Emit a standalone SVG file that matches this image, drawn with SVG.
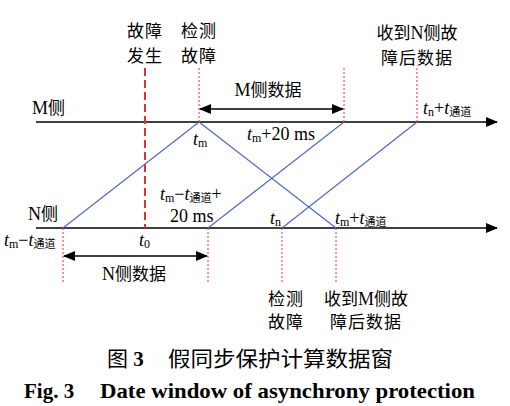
<svg xmlns="http://www.w3.org/2000/svg" width="510" height="406" viewBox="0 0 510 406">
<style>
.cn{font-family:"Noto Sans CJK SC","Noto Sans",sans-serif;font-size:17px;fill:#000}
.lt{font-family:"Liberation Serif","Noto Sans CJK SC",serif;font-size:18px;fill:#000}
.it{font-style:italic}
.sb{font-size:12px}
.sbc{font-family:"Noto Sans CJK SC",sans-serif;font-size:11px}
.axis{stroke:#000;stroke-width:1.5;fill:none}
.blue{stroke:#4a66c4;stroke-width:1.1;fill:none}
.dot{stroke:#e0303a;stroke-width:1;stroke-dasharray:2 2;fill:none}
.dash{stroke:#e0303a;stroke-width:2;stroke-dasharray:8 4;fill:none}
.arr{stroke:#000;stroke-width:1.5;fill:none}
</style>
<defs>
<marker id="ah" viewBox="0 0 12 10" refX="11" refY="5" markerWidth="12" markerHeight="10" markerUnits="userSpaceOnUse" orient="auto-start-reverse">
<path d="M0,0 L12,5 L0,10 Z" fill="#000"/>
</marker>
</defs>
<g id="connectors">
<line class="axis" x1="36" y1="122" x2="497" y2="122" marker-end="url(#ah)"/>
<line class="axis" x1="36" y1="228" x2="497" y2="228" marker-end="url(#ah)"/>
<line class="dash" x1="145" y1="68" x2="145" y2="228"/>
<line class="dot" x1="199" y1="68" x2="199" y2="122"/>
<line class="dot" x1="344" y1="68" x2="344" y2="122"/>
<line class="dot" x1="417" y1="68" x2="417" y2="122"/>
<line class="dot" x1="63" y1="228" x2="63" y2="284"/>
<line class="dot" x1="208" y1="228" x2="208" y2="284"/>
<line class="dot" x1="282" y1="228" x2="282" y2="284"/>
<line class="dot" x1="336" y1="228" x2="336" y2="284"/>
<line class="blue" x1="63" y1="228" x2="199" y2="122"/>
<line class="blue" x1="199" y1="122" x2="336" y2="228"/>
<line class="blue" x1="208" y1="228" x2="344" y2="122"/>
<line class="blue" x1="282" y1="228" x2="417" y2="122"/>
<line class="arr" x1="200" y1="109" x2="343" y2="109" marker-start="url(#ah)" marker-end="url(#ah)"/>
<line class="arr" x1="64" y1="256" x2="207" y2="256" marker-start="url(#ah)" marker-end="url(#ah)"/>
</g>
<g id="fault-occur"><text class="cn" x="145" y="37" text-anchor="middle" letter-spacing="1">故障</text><text class="cn" x="145" y="62" text-anchor="middle" letter-spacing="1">发生</text></g>
<g id="m-detect"><text class="cn" x="199" y="37" text-anchor="middle" letter-spacing="1">检测</text><text class="cn" x="199" y="62" text-anchor="middle" letter-spacing="1">故障</text></g>
<g id="m-recv"><text class="lt" x="417" y="39" text-anchor="middle"><tspan class="cn">收到</tspan>N<tspan class="cn">侧故</tspan></text><text class="cn" x="417" y="64" text-anchor="middle" letter-spacing="1">障后数据</text></g>
<g id="m-side"><text class="lt" x="32" y="114">M<tspan class="cn">侧</tspan></text></g>
<g id="n-side"><text class="lt" x="28" y="220">N<tspan class="cn">侧</tspan></text></g>
<g id="m-data"><text class="lt" x="268" y="96" text-anchor="middle">M<tspan class="cn">侧数据</tspan></text></g>
<g id="n-data"><text class="lt" x="134" y="280" text-anchor="middle">N<tspan class="cn">侧数据</tspan></text></g>
<g id="lbl-tm"><text class="lt" x="193" y="145"><tspan class="it">t</tspan><tspan class="sb" dy="2">m</tspan></text></g>
<g id="lbl-tm20"><text class="lt" x="247" y="140"><tspan class="it">t</tspan><tspan class="sb" dy="2">m</tspan><tspan dy="-2">+20 ms</tspan></text></g>
<g id="lbl-tnt"><text class="lt" x="423" y="114"><tspan class="it">t</tspan><tspan class="sb" dy="2">n</tspan><tspan dy="-2">+</tspan><tspan class="it">t</tspan><tspan class="sbc" dy="2">通道</tspan></text></g>
<g id="lbl-tmt20"><text class="lt" x="160" y="200"><tspan class="it">t</tspan><tspan class="sb" dy="2">m</tspan><tspan dy="-2">−</tspan><tspan class="it">t</tspan><tspan class="sbc" dy="2">通道</tspan><tspan dy="-2">+</tspan></text><text class="lt" x="170" y="222">20 ms</text></g>
<g id="lbl-tmt"><text class="lt" x="4" y="246"><tspan class="it">t</tspan><tspan class="sb" dy="2">m</tspan><tspan dy="-2">−</tspan><tspan class="it">t</tspan><tspan class="sbc" dy="2">通道</tspan></text></g>
<g id="lbl-t0"><text class="lt" x="139" y="246"><tspan class="it">t</tspan><tspan class="sb" dy="2">0</tspan></text></g>
<g id="lbl-tn"><text class="lt" x="270" y="224"><tspan class="it">t</tspan><tspan class="sb" dy="2">n</tspan></text></g>
<g id="lbl-tmtt"><text class="lt" x="335" y="224"><tspan class="it">t</tspan><tspan class="sb" dy="2">m</tspan><tspan dy="-2">+</tspan><tspan class="it">t</tspan><tspan class="sbc" dy="2">通道</tspan></text></g>
<g id="n-detect"><text class="cn" x="286" y="305" text-anchor="middle" letter-spacing="1">检测</text><text class="cn" x="286" y="328" text-anchor="middle" letter-spacing="1">故障</text></g>
<g id="n-recv"><text class="lt" x="366" y="305" text-anchor="middle"><tspan class="cn">收到</tspan>M<tspan class="cn">侧故</tspan></text><text class="cn" x="366" y="328" text-anchor="middle" letter-spacing="1">障后数据</text></g>
<g id="caption">
<text x="107" y="366" font-family="Liberation Serif,serif" font-weight="bold" font-size="21"><tspan font-family="Noto Sans CJK SC,sans-serif" font-weight="normal">图</tspan> 3</text>
<text x="168" y="366" font-family="Noto Sans CJK SC,sans-serif" font-size="21" textLength="225" lengthAdjust="spacingAndGlyphs">假同步保护计算数据窗</text>
<text x="24" y="398" font-family="Liberation Serif,serif" font-weight="bold" font-size="21">Fig. 3</text>
<text x="100" y="398" font-family="Liberation Serif,serif" font-weight="bold" font-size="21" textLength="375" lengthAdjust="spacingAndGlyphs">Date window of asynchrony protection</text>
</g>
</svg>
